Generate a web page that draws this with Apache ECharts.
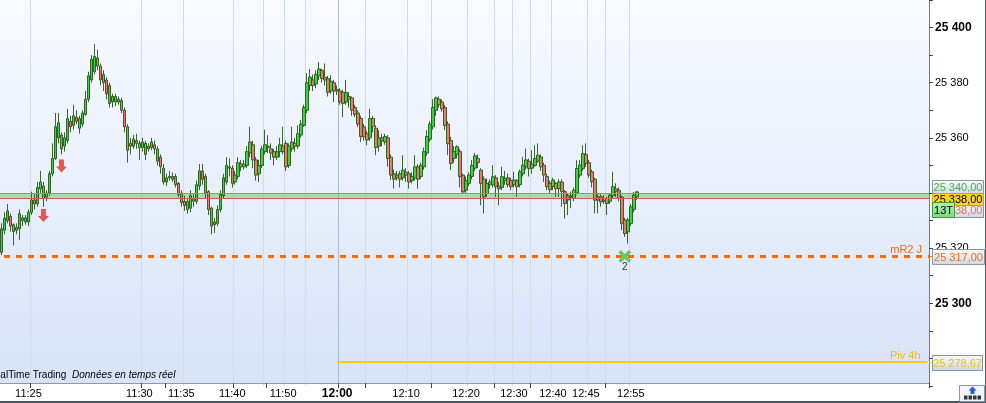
<!DOCTYPE html>
<html><head><meta charset="utf-8">
<script src="https://cdn.jsdelivr.net/npm/echarts@6/dist/echarts.min.js"></script>
<style>html,body{margin:0;padding:0;background:#fff}#c{width:986px;height:403px}</style>
</head><body><div id="c"></div>
<script>
// ---- DATA ----
const SLOT_COUNT = 310; // category slots across the plot (candles + empty space)
// each row: [open, close, high, low]
const candles = [
[25318.5,25327,25329,25317.5],[25326.5,25330.8,25333,25325],[25330,25333.5,25336,25329],[25331.5,25328,25332.5,25326],
[25328.5,25326,25329,25321],[25326.5,25327.5,25329,25325],[25327,25332.5,25334,25323],[25330,25331,25332,25328],
[25331,25329.5,25332,25328.5],[25329.5,25333,25334,25328],[25333,25337.5,25340.5,25332],[25337.5,25336,25339.5,25334],
[25336,25342,25344,25335],[25341.5,25344,25348,25340],[25342.5,25338,25344,25335],[25338.5,25340,25341,25337],
[25340,25347,25348,25339],[25347,25352.5,25358,25346],[25352.5,25364,25369,25352],[25360,25365.5,25369,25358],
[25361,25356,25362,25354],[25357,25360,25362,25355],[25359,25367,25370.5,25358],[25366,25364,25368,25362],
[25364.5,25368,25372,25363],[25367.5,25366,25370,25365],[25367,25363.5,25368,25361.5],[25365,25369,25370,25364],
[25368.5,25374,25377,25368],[25374,25382.5,25384,25373],[25381,25388.5,25390,25380],[25384,25389.5,25394,25383],
[25389,25386,25392,25384.5],[25386,25381,25387,25379],[25383,25380,25384.5,25377],[25381,25376,25382,25374],
[25379,25372.5,25380,25371],[25373,25375,25376,25371],[25375,25373,25376,25371.5],[25373,25374,25375,25372],
[25373.5,25370,25374.5,25369],[25370,25364,25371,25362],[25364,25355.5,25365,25351],[25358,25357,25360,25354],
[25357,25359.5,25361,25356],[25359,25358,25361.5,25356],[25358,25356.5,25359,25352],[25356.5,25358.5,25360,25355],
[25358,25354,25359,25352],[25356,25357,25358,25355],[25356.5,25358.5,25360,25355.5],[25357.5,25356,25359,25354],
[25356,25351.5,25357,25350],[25353,25349.5,25354,25347],[25349,25344,25350.5,25343],[25344,25345.5,25347,25342.5],
[25345.5,25346,25348,25344.5],[25346,25345,25347.5,25344],[25346,25343,25347,25342],[25343.5,25339.5,25344,25338.5],
[25340,25336.5,25341,25335],[25337,25335.5,25339,25333.5],[25337,25334,25338,25332.5],[25334.5,25339,25341,25333],
[25338,25337,25339.5,25335],[25337,25343,25344.5,25336],[25342.5,25348,25350.5,25341],[25348,25345,25350.5,25343],
[25346,25340,25347,25338],[25340.5,25334,25341,25332],[25334.5,25328,25335,25325],[25328.5,25329.5,25331,25325.5],
[25329,25334,25335.5,25328],[25334,25339.5,25341,25333],[25339,25345.5,25347,25338],[25344,25350,25353,25343],
[25349.5,25349,25352.5,25346],[25349,25343.5,25350,25342],[25344,25346.5,25348,25343],[25346,25351,25353,25345],
[25350.5,25349.5,25352,25348],[25349.5,25350.5,25352,25348.5],[25350,25355,25357,25349],[25354.5,25358.5,25364,25353],
[25357.5,25352,25359,25349],[25352,25346.5,25353,25344.5],[25347,25350,25352,25344],[25350,25356,25357,25349],
[25355,25357.5,25363,25354],[25357,25356.5,25361,25354.5],[25356,25354.5,25358,25352],[25355,25353,25356,25350],
[25353,25355,25357,25352],[25355,25357.5,25360,25353],[25357,25355,25364,25354],[25358,25349.5,25359,25348],
[25350,25357,25358,25349],[25356,25358.5,25364,25355],[25358,25357,25360,25355],[25357,25361.5,25364.5,25356],
[25361,25365,25366.5,25360],[25364.5,25371,25372,25364],[25370,25380,25383.5,25369],[25379,25382,25385,25377],
[25381,25379,25383,25377],[25379.5,25383,25384.5,25378],[25382.5,25385,25387.5,25381],[25384.5,25381.5,25385,25380],
[25382,25381,25387,25379],[25381.5,25376.5,25382.5,25375],[25377,25380.5,25382.7,25376],[25380,25377,25381,25373],
[25377.5,25377,25379,25375.5],[25377,25373,25378,25372],[25376.5,25372.5,25377.5,25367.5],[25373,25376.5,25381,25372],
[25375,25374,25376.5,25371],[25374.5,25370,25375,25368],[25371,25368.5,25372,25367.5],[25369,25365,25370,25364],
[25367,25360.5,25368,25358.5],[25364,25360.4,25365,25359],[25361.5,25359.2,25362.5,25357.3],[25360,25367,25370.5,25359],
[25367,25364,25368,25362],[25363.5,25356.5,25364.5,25353.7],[25357,25360,25362.8,25355],[25360,25359,25361.5,25357],
[25358.5,25360.5,25361.5,25357.5],[25360,25352.5,25361,25349.5],[25353,25346.5,25354,25344.7],[25347,25345,25348.5,25341.6],
[25345.5,25346.5,25348,25344.5],[25347,25345,25348,25342],[25345.5,25348.3,25353.7,25344.5],[25347.5,25346.5,25349,25344],
[25347,25344,25348,25341.6],[25344.5,25346,25347.5,25343.5],[25345.5,25349.5,25353.7,25344.5],[25349.5,25345,25350.5,25341.6],
[25346,25350,25351,25345],[25349.5,25355,25356.5,25348.5],[25354.5,25360.5,25362.8,25353.5],[25359.5,25365,25366,25358.5],
[25364,25371,25374,25363],[25370,25374.5,25375,25368],[25374,25372,25375,25371],[25373,25370.5,25374,25369.5],
[25371,25364.5,25372,25362.8],[25365,25357.9,25366,25353.7],[25359,25350.7,25360.4,25348.3],[25352.5,25355,25357,25351],
[25354,25356.8,25357.3,25352.5],[25355,25345.9,25356,25342],[25346.5,25340.4,25347,25339.8],[25341,25344.5,25346,25340],
[25343.5,25346.5,25347.5,25342.5],[25346,25350,25352,25345],[25349,25353.5,25354.5,25348],[25352.5,25351,25354,25349],
[25348.3,25343.5,25349,25335.6],[25345,25338.6,25346,25332.6],[25339.8,25343.5,25345.3,25338.6],[25343,25344,25345,25341.5],
[25343,25345.9,25350.1,25342],[25345.5,25342.3,25346.5,25338.6],[25342.5,25341.5,25344,25335.6],[25342,25345.9,25349.5,25341],
[25344.5,25345.3,25348,25343],[25345.5,25343,25347.1,25342],[25344.5,25342.3,25345.5,25341],[25343,25344.7,25347.7,25342],
[25344.5,25342.3,25345,25338.6],[25343,25347.7,25348.5,25342],[25347,25350.1,25353.1,25346],[25349.5,25352,25356.1,25348.5],
[25351.5,25348.9,25352.5,25346],[25349,25350.5,25355.5,25347],[25350,25352.5,25357.3,25349.5],[25351.5,25353.7,25358,25351],
[25353.1,25349.5,25354,25348],[25350.1,25346.5,25351,25344],[25346,25342.3,25347,25341],[25343.5,25341.2,25344.5,25340],
[25342.3,25344.7,25345.5,25341],[25343.5,25341.6,25344,25338.6],[25341.6,25344,25345,25338.6],[25344,25340.5,25345,25335],
[25340.5,25336.2,25341,25330.8],[25339,25337.5,25340,25332],[25338.5,25339,25340.5,25334.5],[25338,25341,25342,25337],
[25340,25348.9,25351.9,25339.5],[25346.5,25350.1,25351.9,25345.5],[25348.9,25354.3,25357.3,25348],[25354,25350.7,25358,25349.5],
[25351,25346.5,25352,25345.5],[25347.7,25344.1,25348.5,25342],[25345,25337.4,25345.5,25332.6],[25338.6,25337.4,25339.5,25332.6],
[25338.6,25336.8,25339.5,25335],[25337.4,25337,25339.2,25336],[25338,25336.2,25338.6,25332],[25337,25339.2,25340,25336],
[25339,25342.3,25347.7,25338],[25341.5,25340.5,25343.5,25338.6],[25341,25338,25342,25337],[25338.5,25329,25339,25326.5],
[25330.2,25325.3,25331,25324.1],[25325.9,25330.2,25331,25321.7],[25329,25335,25336,25328],[25334,25339.2,25340.4,25333],
[25338.6,25340.4,25340.8,25337.5]
];
const timeLabelIdx = [9, 46, 60, 77, 94, 112, 135, 155, 171, 184, 195, 210];
const timeLabelTxt = ['11:25','11:30','11:35','11:40','11:50','12:00','12:10','12:20','12:30','12:40','12:45','12:55'];
const boldTimeLabel = '12:00';
const gridLineIdx = [10, 47, 61, 78, 88, 95, 102, 113, 122, 136, 144, 156, 165, 171, 177, 184, 196, 202, 210];
const tickIdx = [10, 47, 55, 78, 89, 113, 122, 144, 165, 177, 202];
const priceLabels = [25300, 25320, 25340, 25360, 25380, 25400];
const boldPriceLabels = [25300, 25400];
const sellArrows = [[14, 25331.8], [20, 25349.8]];
const crossMarks = [[208, 25317]];
const crossMarkText = '2';
const zoneLow = 25338, zoneHigh = 25340;
const lastPrice = 25338;
const mR2 = 25317, mR2Name = 'mR2 J';
const piv4h = 25278.67, piv4hName = 'Piv 4h', pivStartIdx = 112;
const barCountTag = '13T';

// ---- BUILD ----
const FONT = '"Liberation Sans", Arial, sans-serif';
const slots = Array.from({length: SLOT_COUNT}, (_, i) => String(i));
const labelMap = new Map(timeLabelIdx.map((v, k) => [v, timeLabelTxt[k]]));
const gridSet = new Set(gridLineIdx);
const tickSet = new Set(tickIdx);
const gridColors = gridLineIdx.map(i => labelMap.get(i - 1) === boldTimeLabel ? '#AEBBD0' : '#D3DBE9');
function sp(n){ return String(n).replace(/\B(?=(\d{3})+(?!\d))/g, ' '); }
function priceTxt(v){ const p = v.toFixed(2).split('.'); return sp(p[0]) + ',' + p[1]; }

const chart = echarts.init(document.getElementById('c'));
const option = {
  animation: false,
  backgroundColor: '#ffffff',
  grid: {left: 0, right: 57, top: 0, bottom: 17, containLabel: false},
  xAxis: {
    type: 'category', data: slots, boundaryGap: true, offset: -3,
    axisLine: {show: true, lineStyle: {color: '#8C99A8', width: 1}},
    axisTick: {show: true, interval: (i) => tickSet.has(i), length: 5, lineStyle: {color: '#3A4450'}},
    axisLabel: {
      interval: (i) => labelMap.has(i), margin: 5, fontSize: 11, color: '#000', fontFamily: FONT,
      formatter: (v) => { const t = labelMap.get(+v) || ''; return t === boldTimeLabel ? '{b|' + t + '}' : t; },
      rich: {b: {fontWeight: 'bold', fontSize: 12, color: '#000', fontFamily: FONT}}
    },
    splitLine: {show: true, interval: (i) => gridSet.has(i), lineStyle: {color: gridColors, width: 1}}
  },
  yAxis: {
    type: 'value', position: 'right', min: 25270, max: 25410, interval: 10,
    axisLine: {show: true, lineStyle: {color: '#6E7D8C', width: 1}},
    axisTick: {show: true, length: 4, lineStyle: {color: '#3A4450'}},
    axisLabel: {
      margin: 6, fontSize: 11, color: '#000', fontFamily: FONT,
      formatter: (v) => {
        const r = Math.round(v);
        if (priceLabels.indexOf(r) < 0) return '';
        return boldPriceLabels.indexOf(r) >= 0 ? '{b|' + sp(r) + '}' : sp(r);
      },
      rich: {b: {fontWeight: 'bold', fontSize: 12, color: '#000', fontFamily: FONT}}
    },
    splitLine: {show: false}
  },
  series: [
    {
      type: 'candlestick', z: 2, barWidth: 3,
      data: candles.map(r => [r[0], r[1], r[3], r[2]]),
      itemStyle: {color: '#3FD23F', color0: '#EC7A6A', borderColor: '#22561A', borderColor0: '#22561A', borderWidth: 0.9}
    },
    {
      type: 'line', z: 3, data: [], silent: true,
      markArea: {silent: true, itemStyle: {color: 'rgba(110,205,110,0.55)'}, data: [[{yAxis: zoneLow}, {yAxis: zoneHigh}]]},
      markLine: {
        silent: true, symbol: ['none', 'none'], animation: false,
        data: [
          {yAxis: zoneHigh, lineStyle: {color: '#5DB55D', width: 1, type: 'solid'}, label: {show: false}},
          {yAxis: zoneLow, lineStyle: {color: '#D65C5C', width: 1, type: 'solid'}, label: {show: false}},
          {yAxis: mR2, lineStyle: {color: '#FF6A00', width: 3, type: [6, 6], dashOffset: 8},
            label: {show: true, position: 'insideEndTop', formatter: mR2Name, color: '#FF6A00', fontSize: 11, fontFamily: FONT, distance: [7, 1]}},
          [{coord: [pivStartIdx, piv4h], lineStyle: {color: '#FFC800', width: 2, type: 'solid'},
            label: {show: true, position: 'insideEndTop', formatter: piv4hName, color: '#F2BE00', fontSize: 11, fontFamily: FONT, distance: [7, 1]}},
           {coord: [SLOT_COUNT - 1, piv4h]}]
        ]
      }
    },
    {
      type: 'scatter', z: 4, silent: true, data: sellArrows,
      symbol: 'path://M3,0 L8,0 L8,7 L11,7 L5.5,13 L0,7 L3,7 Z', symbolSize: [11, 13],
      itemStyle: {color: '#E65454', opacity: 1}
    },
    {
      type: 'scatter', z: 4, silent: true, data: crossMarks,
      symbol: 'path://M0,2 L2,0 L6,4 L10,0 L12,2 L8,6 L12,10 L10,12 L6,8 L2,12 L0,10 L4,6 Z', symbolSize: 12,
      itemStyle: {color: '#3CC83C', borderColor: '#2E9E2E', borderWidth: 0.5},
      label: {show: true, position: 'bottom', distance: 0, formatter: crossMarkText, color: '#000', fontSize: 10, fontFamily: FONT}
    }
  ]
};
chart.setOption(option);

// ---- right-side value boxes & frame ----
function py(v){ return chart.convertToPixel({yAxisIndex: 0}, v); }
const lightFill = {type: 'linear', x: 0, y: 0, x2: 0, y2: 1, colorStops: [{offset: 0, color: '#FBFCFE'}, {offset: 1, color: '#CDD6E3'}]};
function box(x, yc, w, h, fill, stroke, text, color, z){
  const top = Math.round(yc - h / 2) + 0.5;
  return [
    {type: 'rect', z: z, shape: {x: x + 0.5, y: top, width: w, height: h}, style: {fill: fill, stroke: stroke, lineWidth: 1}},
    {type: 'text', z: z, x: x + 0.5 + w / 2, y: top + h / 2 + 0.5,
      style: {text: text, fill: color, font: '11px ' + FONT, textAlign: 'center', textVerticalAlign: 'middle', align: 'center', verticalAlign: 'middle'}}
  ];
}
const yLast = py(lastPrice), yM = py(mR2), yP = py(piv4h);
const els = [];
els.push({type: 'rect', z: -10, shape: {x: 0, y: 0, width: 929, height: 383},
  style: {fill: {type: 'linear', x: 0, y: 0, x2: 0, y2: 1, colorStops: [{offset: 0, color: '#F8FAFF'}, {offset: 1, color: '#D8E3F8'}]}}});
els.push(...box(932, yLast - 12, 51, 14, lightFill, '#8996A6', priceTxt(zoneHigh), '#3DB83D', 10));
els.push(...box(932, yLast + 11, 51, 14, lightFill, '#8996A6', priceTxt(zoneLow), '#E07068', 10));
els.push(...box(932, yLast + 0.5, 51, 12, '#FFD31C', '#C9A800', priceTxt(lastPrice), '#000', 11));
els.push(...box(932, yLast + 11, 22, 15, {type: 'linear', x: 0, y: 0, x2: 0, y2: 1, colorStops: [{offset: 0, color: '#B4F2B4'}, {offset: 1, color: '#7ED87E'}]}, '#3C9C3C', barCountTag, '#000', 12));
els.push(...box(932, yM, 52, 15, lightFill, '#8996A6', priceTxt(mR2), '#FF6A00', 10));
els.push(...box(932, yP, 50, 15, lightFill, '#8996A6', priceTxt(piv4h), '#F2BE00', 10));
els.push({type: 'line', z: 10, shape: {x1: 929, y1: Math.round(yM) + 0.5, x2: 932, y2: Math.round(yM) + 0.5}, style: {stroke: '#FF6A00', lineWidth: 1}});
els.push({type: 'line', z: 10, shape: {x1: 929, y1: Math.round(yP) + 0.5, x2: 932, y2: Math.round(yP) + 0.5}, style: {stroke: '#FFC800', lineWidth: 1}});
// bottom-left source text
els.push({type: 'text', z: 10, x: -28, y: 375, style: {text: 'ProRealTime Trading', fill: '#000', font: '10px ' + FONT, textVerticalAlign: 'middle', verticalAlign: 'middle'}});
els.push({type: 'text', z: 10, x: 72, y: 375, style: {text: 'Données en temps réel', fill: '#000', font: 'italic 10px ' + FONT, textVerticalAlign: 'middle', verticalAlign: 'middle'}});
// frame
els.push({type: 'line', z: 20, shape: {x1: 985.5, y1: 0, x2: 985.5, y2: 403}, style: {stroke: '#56616C', lineWidth: 1}});
els.push({type: 'line', z: 20, shape: {x1: 0, y1: 402, x2: 986, y2: 402}, style: {stroke: '#4A5560', lineWidth: 2}});
// corner button
els.push({type: 'rect', z: 21, shape: {x: 959.5, y: 385.5, width: 25, height: 16}, style: {fill: '#F3F5F8', stroke: '#8996A6', lineWidth: 1}});
els.push({type: 'polygon', z: 22, shape: {points: [[972.5, 386.5], [976.5, 390.5], [974.5, 390.5], [974.5, 394], [970.5, 394], [970.5, 390.5], [968.5, 390.5]]}, style: {fill: '#1E62D8'}});
[964, 968.5, 973, 977.5].forEach(x => els.push({type: 'rect', z: 22, shape: {x: x, y: 395.5, width: 3.5, height: 4}, style: {fill: '#2E3640'}}));
chart.setOption({graphic: {elements: els}});
</script></body></html>
